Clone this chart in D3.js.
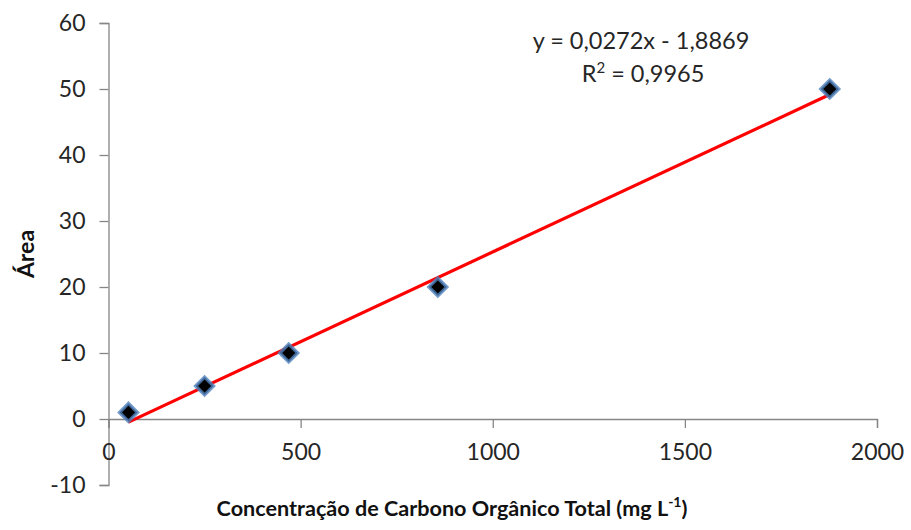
<!DOCTYPE html>
<html>
<head>
<meta charset="utf-8">
<script src="https://cdn.jsdelivr.net/npm/d3@7"></script>
<style>
  html, body { margin: 0; padding: 0; background: #fff; }
  svg { display: block; font-family: Lato, "Open Sans", sans-serif; }
</style>
</head>
<body>
<svg id="chart" width="911" height="530"></svg>
<script>
// Calibration points: TOC concentration (mg/L) vs. peak area
const concentrations = [52, 250, 469, 857, 1877];
const areas = [1, 5, 10, 20, 50];

// Fitted linear trend line
const slope = 0.0272;
const intercept = -1.8869;
const equationLabel = "y = 0,0272x - 1,8869";
const r2Label = "0,9965";

const xTicks = [0, 500, 1000, 1500, 2000];
const yTicks = [-10, 0, 10, 20, 30, 40, 50, 60];

const xTitle = "Concentração de Carbono Orgânico Total (mg L";
const yTitle = "Área";

const svg = d3.select("#chart");
const axisColor = "#868686";
const fontStack = "Lato, 'Open Sans', sans-serif";
const fmt = d => String(d); // plain hyphen for negatives

const x = d3.scaleLinear().domain([0, 2000]).range([108.5, 877]);
const y = d3.scaleLinear().domain([-10, 60]).range([485, 23]);

// Y axis (left, ticks outward)
const yAxis = d3.axisLeft(y).tickValues(yTicks).tickSize(9).tickPadding(14).tickFormat(fmt);
const gy = svg.append("g").attr("transform", `translate(${x(0)},0)`).call(yAxis);
gy.select(".domain").attr("stroke", axisColor).attr("stroke-width", 1.3);
gy.selectAll(".tick line").attr("stroke", axisColor).attr("stroke-width", 1.3);
gy.selectAll(".tick text").attr("fill", "#262626").style("font-size", "23px")
  .style("font-family", fontStack);

// X axis crossing at y = 0, ticks downward
const xAxis = d3.axisBottom(x).tickValues(xTicks).tickSize(9).tickSizeOuter(9).tickPadding(16).tickFormat(fmt);
const gx = svg.append("g").attr("transform", `translate(0,${y(0)})`).call(xAxis);
gx.select(".domain").attr("stroke", axisColor).attr("stroke-width", 1.3);
gx.selectAll(".tick line").attr("stroke", axisColor).attr("stroke-width", 1.3);
gx.selectAll(".tick text").attr("fill", "#262626").style("font-size", "23px")
  .style("font-family", fontStack);

// Trend line over the data range
const x0 = d3.min(concentrations), x1 = d3.max(concentrations);
svg.append("line")
  .attr("x1", x(x0)).attr("y1", y(slope * x0 + intercept))
  .attr("x2", x(x1)).attr("y2", y(slope * x1 + intercept))
  .attr("stroke", "#ff0000").attr("stroke-width", 3.2);

// Diamond markers (black with blue outline)
svg.append("g").selectAll("path")
  .data(concentrations.map((c, i) => [c, areas[i]]))
  .join("path")
  .attr("transform", d => `translate(${x(d[0])},${y(d[1])}) rotate(45)`)
  .attr("d", d3.symbol().type(d3.symbolSquare).size(160))
  .attr("fill", "#000")
  .attr("stroke", "#4f81bd")
  .attr("stroke-width", 3.4)
  .attr("stroke-opacity", 0.8);

// Equation and R² labels
svg.append("text")
  .attr("x", 641).attr("y", 49)
  .attr("text-anchor", "middle")
  .attr("fill", "#262626")
  .style("font-size", "23.5px")
  .text(equationLabel);

const r2 = svg.append("text")
  .attr("x", 643).attr("y", 82)
  .attr("text-anchor", "middle")
  .attr("fill", "#262626")
  .style("font-size", "23.5px");
r2.append("tspan").text("R");
r2.append("tspan").attr("dy", -9).style("font-size", "15px").text("2");
r2.append("tspan").attr("dy", 9).text(" = " + r2Label);

// Axis titles
const xt = svg.append("text")
  .attr("x", 452).attr("y", 516)
  .attr("text-anchor", "middle")
  .attr("fill", "#111")
  .style("font-size", "21.6px")
  .style("font-weight", "bold")
  .text(xTitle);
xt.append("tspan").attr("dy", -9).style("font-size", "14px").text("-1");
xt.append("tspan").attr("dy", 9).text(")");

svg.append("text")
  .attr("transform", "translate(34,254) rotate(-90)")
  .attr("text-anchor", "middle")
  .attr("fill", "#111")
  .style("font-size", "23px")
  .style("font-weight", "bold")
  .text(yTitle);
</script>
</body>
</html>
